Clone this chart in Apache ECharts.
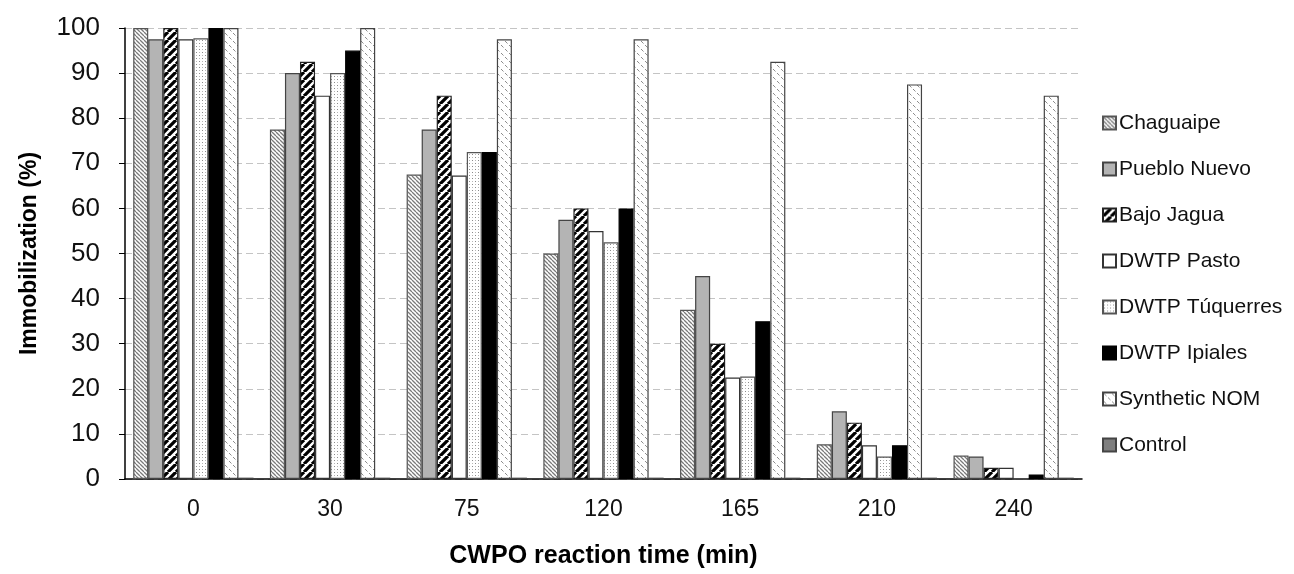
<!DOCTYPE html>
<html>
<head>
<meta charset="utf-8">
<script src="https://cdn.jsdelivr.net/npm/echarts@6/dist/echarts.min.js"></script>
<style>
  html, body { margin: 0; padding: 0; background: #fff; }
  #chart { width: 1294px; height: 574px; }
</style>
</head>
<body>
<div id="chart"></div>
<script>
// categories (CWPO reaction time, min)
const times = ['0', '30', '75', '120', '165', '210', '240'];

// immobilization (%) per sample
const chaguaipe    = [100, 77.5, 67.5, 50, 37.5, 7.7, 5.2];
const puebloNuevo  = [97.5, 90, 77.5, 57.5, 45, 15, 5];
const bajoJagua    = [100, 92.5, 85, 60, 30, 12.5, 2.5];
const dwtpPasto    = [97.5, 85, 67.3, 55, 22.5, 7.5, 2.5];
const dwtpTuquerres = [97.7, 90, 72.5, 52.5, 22.7, 5, 0];
const dwtpIpiales  = [100, 95, 72.5, 60, 35, 7.5, 1];
const syntheticNom = [100, 100, 97.5, 97.5, 92.5, 87.5, 85];
const control      = [0.3, 0.3, 0.3, 0.3, 0.3, 0.3, 0.3];

const seriesNames = ['Chaguaipe', 'Pueblo Nuevo', 'Bajo Jagua', 'DWTP Pasto',
  'DWTP Túquerres', 'DWTP Ipiales', 'Synthetic NOM', 'Control'];
const seriesData = [chaguaipe, puebloNuevo, bajoJagua, dwtpPasto,
  dwtpTuquerres, dwtpIpiales, syntheticNom, control];

// pattern fills like the excel hatches
function tile(size, draw) {
  const c = document.createElement('canvas');
  c.width = size; c.height = size;
  const ctx = c.getContext('2d');
  ctx.fillStyle = '#fff';
  ctx.fillRect(0, 0, size, size);
  draw(ctx, size);
  return { image: c, repeat: 'repeat' };
}
function diag(size, width, color, back) {
  return tile(size, (ctx, s) => {
    ctx.strokeStyle = color;
    ctx.lineWidth = width;
    ctx.beginPath();
    for (let k = -1; k <= 1; k++) {
      if (back) { ctx.moveTo(k * s, 0); ctx.lineTo(k * s + s, s); }
      else { ctx.moveTo(k * s, s); ctx.lineTo(k * s + s, 0); }
    }
    ctx.stroke();
  });
}
const hatchChag = diag(4, 1.3, '#7a7a7a', true);
const hatchBajo = diag(8, 3.2, '#000', false);
const dots = tile(6, (ctx) => {
  ctx.fillStyle = '#8a8a8a';
  ctx.fillRect(1, 1, 1, 1);
  ctx.fillRect(4, 4, 1, 1);
  ctx.fillStyle = '#b8b8b8';
  ctx.fillRect(4, 1, 1, 1);
  ctx.fillRect(1, 4, 1, 1);
});
const dashes = tile(8, (ctx) => {
  ctx.strokeStyle = '#8c8c8c';
  ctx.lineWidth = 1;
  ctx.beginPath();
  ctx.moveTo(1, 1); ctx.lineTo(3.5, 3.5);
  ctx.moveTo(5, 5); ctx.lineTo(7.5, 7.5);
  ctx.stroke();
});

const fills = [hatchChag, '#b4b4b4', hatchBajo, '#ffffff', dots, '#000000', dashes, '#7f7f7f'];
const borders = ['#555', '#444', '#222', '#333', '#555', '#000', '#444', '#444'];

const series = seriesNames.map((name, i) => ({
  name: name,
  type: 'bar',
  data: seriesData[i],
  barGap: '0%',
  barCategoryGap: '12%',
  itemStyle: { color: fills[i], borderColor: borders[i], borderWidth: 1.2 }
}));

const myChart = echarts.init(document.getElementById('chart'));
myChart.setOption({
  animation: false,
  backgroundColor: '#fff',
  textStyle: { fontFamily: 'Liberation Sans, Arial, sans-serif' },
  legend: {
    orient: 'vertical',
    left: 1097,
    top: 107,
    itemWidth: 13,
    itemHeight: 13,
    itemGap: 24,
    icon: 'rect',
    textStyle: { fontSize: 21, lineHeight: 22, color: '#111', padding: [0, 0, 0, -2] },
    data: seriesNames
  },
  grid: {
    left: 125,
    right: 212,
    top: 28,
    bottom: 89
  },
  xAxis: {
    type: 'category',
    data: times,
    name: 'CWPO reaction time (min)',
    nameLocation: 'middle',
    nameGap: 65,
    nameTextStyle: { fontSize: 25, fontWeight: 'bold', color: '#000' },
    axisLine: { lineStyle: { color: '#000', width: 1.5 } },
    axisTick: { show: false },
    axisLabel: { fontSize: 23, color: '#111', margin: 19 }
  },
  yAxis: {
    type: 'value',
    min: 0,
    max: 100,
    interval: 10,
    name: 'Immobilization (%)',
    nameLocation: 'middle',
    nameGap: 84,
    nameTextStyle: { fontSize: 23, fontWeight: 'bold', color: '#000' },
    axisLine: { show: true, lineStyle: { color: '#000', width: 1.5 } },
    axisTick: { show: true, length: 6, lineStyle: { color: '#000' } },
    axisLabel: { fontSize: 26, color: '#111', margin: 25 },
    splitLine: { show: true, lineStyle: { color: '#c4c4c4', type: [7, 4] } }
  },
  series: series
});
</script>
</body>
</html>
